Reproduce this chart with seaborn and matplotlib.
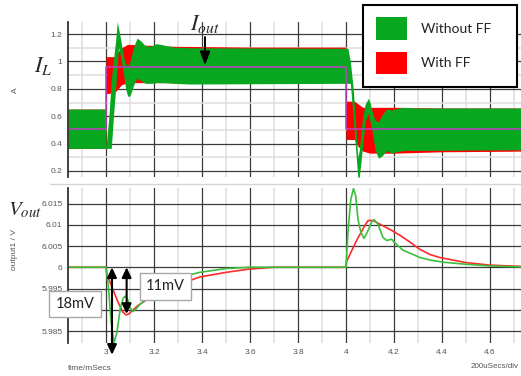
import numpy as np
import pandas as pd
import seaborn as sns
import matplotlib.pyplot as plt
from matplotlib.ticker import MultipleLocator, FixedLocator, FuncFormatter
from matplotlib.patches import Patch
from matplotlib.lines import Line2D

sns.set_style("white")
plt.rcParams['font.family'] = ['Liberation Sans', 'DejaVu Sans']
plt.rcParams['mathtext.fontset'] = 'stix'

# ---- data read off the scope capture (time in ms) ----
# inductor current ripple band, Without FF (upper / lower envelope, A)
il_t_wo = [2.8417, 2.9995, 3.000, 3.012, 3.022, 3.032, 3.040, 3.047, 3.052, 3.060, 3.067, 3.075,
           3.082, 3.088, 3.093, 3.100, 3.110, 3.120, 3.130, 3.145, 3.163, 3.185, 3.210, 3.240,
           3.280, 3.350, 4.000, 4.008, 4.018, 4.030, 4.040, 4.049, 4.055, 4.062, 4.070, 4.080,
           4.093, 4.100, 4.110, 4.121, 4.135, 4.150, 4.170, 4.190, 4.210, 4.240, 4.300, 4.730]
il_hi_wo = [0.652, 0.652, 0.365, 0.60, 0.86, 1.03, 1.15, 1.29, 1.245, 1.17, 1.10, 1.02,
            0.985, 0.97, 0.975, 1.00, 1.07, 1.13, 1.17, 1.15, 1.115, 1.11, 1.13, 1.12,
            1.105, 1.10, 1.096, 1.096, 1.00, 0.80, 0.55, 0.30, 0.35, 0.48, 0.60, 0.69,
            0.73, 0.70, 0.63, 0.57, 0.56, 0.61, 0.655, 0.645, 0.655, 0.665, 0.66, 0.66]
il_lo_wo = [0.365, 0.365, 0.365, 0.365, 0.365, 0.62, 0.80, 0.98, 1.10, 1.04, 0.97, 0.88,
            0.80, 0.76, 0.742, 0.75, 0.80, 0.85, 0.877, 0.86, 0.84, 0.84, 0.845, 0.845,
            0.84, 0.835, 0.84, 0.84, 0.84, 0.58, 0.36, 0.154, 0.154, 0.26, 0.40, 0.56,
            0.62, 0.56, 0.48, 0.353, 0.293, 0.31, 0.35, 0.33, 0.34, 0.35, 0.35, 0.355]

# inductor current ripple band, With FF
il_t_ff = [2.8417, 2.9995, 3.000, 3.035, 3.050, 3.065, 3.090, 3.150, 3.300, 3.600, 3.9995,
           4.000, 4.035, 4.050, 4.070, 4.100, 4.200, 4.400, 4.730]
il_hi_ff = [0.652, 0.652, 1.035, 1.035, 1.07, 1.10, 1.125, 1.12, 1.11, 1.105, 1.105,
            0.71, 0.71, 0.69, 0.665, 0.665, 0.665, 0.66, 0.66]
il_lo_ff = [0.365, 0.365, 0.765, 0.77, 0.80, 0.83, 0.845, 0.845, 0.845, 0.845, 0.845,
            0.43, 0.43, 0.38, 0.345, 0.33, 0.33, 0.34, 0.345]

# load current step
iout_t = [2.8417, 3.0, 3.0, 4.0, 4.0, 4.73]
iout_v = [0.505, 0.505, 0.96, 0.96, 0.51, 0.51]

# output voltage, Without FF
vout_t_wo = [2.8417, 3.0, 3.01, 3.02, 3.033, 3.045, 3.06, 3.072, 3.08, 3.09, 3.1, 3.113, 3.125,
             3.14, 3.17, 3.21, 3.25, 3.3, 3.39, 3.5, 3.6, 4.0, 4.008, 4.02, 4.031, 4.04, 4.05,
             4.062, 4.075, 4.088, 4.108, 4.117, 4.133, 4.154, 4.17, 4.19, 4.21, 4.238, 4.267,
             4.308, 4.35, 4.404, 4.5, 4.6, 4.73]
vout_wo = [6.0, 6.0, 5.9955, 5.988, 5.9822, 5.9845, 5.9905, 5.9928, 5.9932, 5.9925, 5.9905,
           5.9896, 5.9902, 5.9912, 5.9927, 5.9953, 5.9965, 5.9975, 5.9988, 5.9997, 6.0, 6.0,
           6.0082, 6.016, 6.0185, 6.0169, 6.0112, 6.0082, 6.0068, 6.0082, 6.0108, 6.0112,
           6.0101, 6.007, 6.0063, 6.0066, 6.0054, 6.004, 6.0033, 6.0023, 6.0017, 6.0012,
           6.0007, 6.0003, 6.0001]

# output voltage, With FF
vout_t_ff = [2.8417, 3.0, 3.003, 3.025, 3.05, 3.07, 3.083, 3.095, 3.108, 3.133, 3.16, 3.19,
             3.24, 3.296, 3.39, 3.5, 3.6, 3.7, 4.0, 4.001, 4.044, 4.075, 4.092, 4.113, 4.142,
             4.183, 4.225, 4.267, 4.308, 4.35, 4.39, 4.5, 4.6, 4.73]
vout_ff = [6.0, 6.0, 5.9985, 5.9953, 5.9918, 5.9895, 5.9888, 5.989, 5.9897, 5.991, 5.992,
           5.9934, 5.9946, 5.9958, 5.9977, 5.9988, 5.9996, 6.0, 6.0, 6.0012, 6.0063, 6.0095,
           6.011, 6.011, 6.0101, 6.0089, 6.0075, 6.0059, 6.0042, 6.003, 6.0023, 6.0011,
           6.0005, 6.0002]

time_ticks = [3, 3.2, 3.4, 3.6, 3.8, 4, 4.2, 4.4, 4.6]
il_ticks = [0.2, 0.4, 0.6, 0.8, 1, 1.2]
vout_ticks = [5.985, 5.99, 5.995, 6, 6.005, 6.01, 6.015]
vout_hidden = [5.99]   # label sits under the 18mV callout

# dips marked on the Vout trace
dip_wo = (3.025, 6.0, 5.9794)
dip_ff = (3.086, 6.0, 5.989)

GREEN = '#07a81f'
RED = '#ff0000'
GREEN_LINE = '#3cbf3c'
RED_LINE = '#ff2a2a'
PINK = '#c43cc4'

W, H = 521, 376
fig = plt.figure(figsize=(W / 100, H / 100), dpi=100)
ax1 = fig.add_axes([68 / W, 1 - 177 / H, 453 / W, 155 / H])
ax2 = fig.add_axes([68 / W, 1 - 343 / H, 453 / W, 155 / H])

fmt = FuncFormatter(lambda v, p: '{:g}'.format(round(v, 4)))
vfmt = FuncFormatter(lambda v, p: '' if any(abs(v - h) < 1e-6 for h in vout_hidden)
                     else '{:g}'.format(round(v, 4)))
for ax in (ax1, ax2):
    ax.set_xlim(2.8417, 4.729)
    ax.xaxis.set_major_locator(FixedLocator(time_ticks))
    ax.xaxis.set_minor_locator(MultipleLocator(0.1))
    ax.grid(which='major', color='#3a3a3a', lw=0.9)
    ax.grid(which='minor', axis='x', color='#dedede', lw=1.1)
    ax.set_axisbelow(True)
    for s in ('top', 'right', 'bottom'):
        ax.spines[s].set_visible(False)
    ax.spines['left'].set_color('#333333')
    ax.spines['left'].set_linewidth(1.3)
    ax.tick_params(axis='y', which='major', length=3, width=0.8, color='#333333',
                   labelsize=6, labelcolor='#555555', pad=1)
    ax.tick_params(axis='x', which='both', length=0, labelsize=6, labelcolor='#555555', pad=4)
    ax.tick_params(axis='y', which='minor', length=0)
    ax.xaxis.set_major_formatter(fmt)

# ---- top: inductor current ----
ax1.set_ylim(0.156, 1.288)
ax1.yaxis.set_major_locator(FixedLocator(il_ticks))
ax1.yaxis.set_minor_locator(MultipleLocator(0.1))
ax1.yaxis.set_major_formatter(fmt)
ax1.grid(which='minor', axis='y', color='#dedede', lw=1.1)
ax1.fill_between(il_t_ff, il_lo_ff, il_hi_ff, color=RED, lw=0)
ax1.fill_between(il_t_wo, il_lo_wo, il_hi_wo, color=GREEN, lw=0)
sns.lineplot(x=iout_t, y=iout_v, ax=ax1, color=PINK, lw=1.1, sort=False, estimator=None)
ax1.set_xticklabels([])
ax1.set_xlabel('')
ax1.set_ylabel('')

# ---- bottom: output voltage ----
ax2.set_ylim(5.98218, 6.01865)
ax2.yaxis.set_major_locator(FixedLocator(vout_ticks))
ax2.yaxis.set_major_formatter(vfmt)
sns.lineplot(x=vout_t_ff, y=vout_ff, ax=ax2, color=RED_LINE, lw=1.2, sort=False, estimator=None)
sns.lineplot(x=vout_t_wo, y=vout_wo, ax=ax2, color=GREEN_LINE, lw=1.2, sort=False, estimator=None)
ax2.set_xlabel('')
ax2.set_ylabel('')

arrow_kw = dict(arrowstyle='<|-|>,head_width=0.28,head_length=0.6', color='black', lw=1.5,
                shrinkA=0, shrinkB=0, mutation_scale=10)
for t, v0, v1 in (dip_wo, dip_ff):
    ax2.annotate('', xy=(t, v1), xytext=(t, v0), arrowprops=arrow_kw, annotation_clip=False)

box_kw = dict(boxstyle='square,pad=0.42', fc='white', ec='#a8a8a8', lw=1)
fig.text(75 / W, 1 - 304 / H, '18mV', ha='center', va='center', fontsize=10.5,
         family=['Lato', 'DejaVu Sans'], color='#222222', bbox=box_kw, zorder=5)
fig.text(165.5 / W, 1 - 286.5 / H, '11mV', ha='center', va='center', fontsize=10.5,
         family=['Lato', 'DejaVu Sans'], color='#222222', bbox=box_kw, zorder=5)

# Iout pointer
ax1.annotate('', xy=(3.4125, 0.972), xytext=(3.4125, 1.178),
             arrowprops=dict(arrowstyle='-|>,head_width=0.3,head_length=0.8', color='black',
                             lw=1.4, shrinkA=0, shrinkB=0, mutation_scale=10),
             annotation_clip=False)

# labels
fig.text(190 / W, 1 - 30 / H, r'$I_{out}$', fontsize=16, va='baseline', ha='left')
fig.text(34 / W, 1 - 72 / H, r'$I_L$', fontsize=16, va='baseline', ha='left')
fig.text(8 / W, 1 - 215 / H, r'$V_{out}$', fontsize=15, va='baseline', ha='left')
fig.text(15 / W, 1 - 90 / H, 'A', rotation=90, fontsize=6, color='#555555', ha='center', va='center')
fig.text(15 / W, 1 - 250 / H, 'output1 / V', rotation=90, fontsize=6, color='#555555',
         ha='center', va='center')
fig.text(68 / W, 1 - 368 / H, 'time/mSecs', fontsize=6, color='#555555', ha='left', va='center')
fig.text(519 / W, 1 - 366 / H, '200uSecs/div', fontsize=5.8, color='#555555', ha='right', va='center')

# separator between the two panes
fig.add_artist(Line2D([50 / W, 1], [1 - 184 / H, 1 - 184 / H], color='#d4d4d4', lw=1))

# legend
handles = [Patch(facecolor=GREEN, edgecolor='none', label='Without FF'),
           Patch(facecolor=RED, edgecolor='none', label='With FF')]
leg = fig.legend(handles=handles, loc='upper left',
                 bbox_to_anchor=(363 / W, 1 - 5 / H, 154 / W, 0), mode='expand',
                 borderaxespad=0, prop={'family': ['Lato', 'DejaVu Sans'], 'size': 10},
                 handlelength=2.3, handleheight=2.1, handletextpad=1.0, labelspacing=0.85,
                 borderpad=0.9, fancybox=False, framealpha=1, edgecolor='black')
leg.get_frame().set_linewidth(1.5)
for txt in leg.get_texts():
    txt.set_color('#222222')

fig.savefig('out.png', dpi=100)
